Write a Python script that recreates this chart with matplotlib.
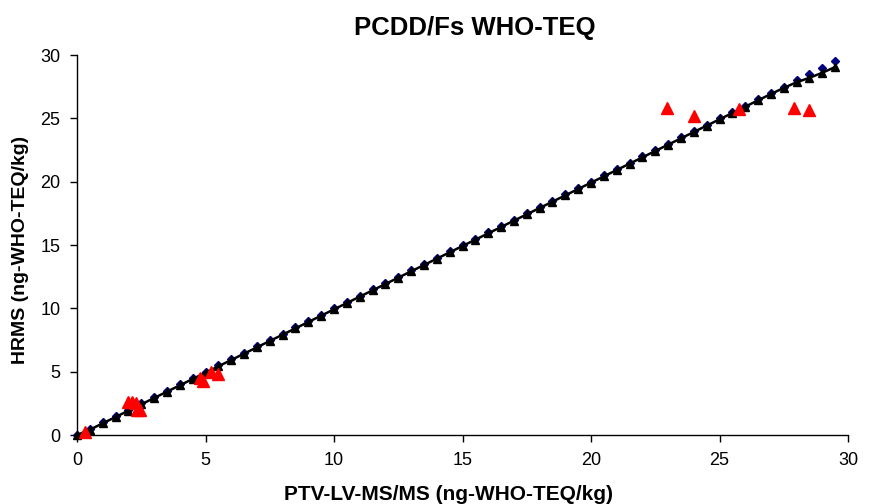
import matplotlib
matplotlib.use("Agg")
import matplotlib.pyplot as plt

plt.rcParams['font.family'] = ['Liberation Sans', 'DejaVu Sans']

# 1:1 reference series (diamonds) and regression series (triangles)
ref_x = [0, 0.5, 1, 1.5, 2, 2.5, 3, 3.5, 4, 4.5, 5, 5.5, 6, 6.5, 7, 7.5, 8, 8.5, 9, 9.5,
         10, 10.5, 11, 11.5, 12, 12.5, 13, 13.5, 14, 14.5, 15, 15.5, 16, 16.5, 17, 17.5,
         18, 18.5, 19, 19.5, 20, 20.5, 21, 21.5, 22, 22.5, 23, 23.5, 24, 24.5, 25, 25.5,
         26, 26.5, 27, 27.5, 28, 28.5, 29, 29.5]
ref_y = [0, 0.5, 1, 1.5, 2, 2.5, 3, 3.5, 4, 4.5, 5, 5.5, 6, 6.5, 7, 7.5, 8, 8.5, 9, 9.5,
         10, 10.5, 11, 11.5, 12, 12.5, 13, 13.5, 14, 14.5, 15, 15.5, 16, 16.5, 17, 17.5,
         18, 18.5, 19, 19.5, 20, 20.5, 21, 21.5, 22, 22.5, 23, 23.5, 24, 24.5, 25, 25.5,
         26, 26.5, 27, 27.5, 28, 28.5, 29, 29.5]
fit_x = ref_x
fit_y = [0, 0.42, 0.92, 1.42, 1.92, 2.42, 2.92, 3.42, 3.92, 4.42, 4.92, 5.42, 5.92, 6.42,
         6.92, 7.42, 7.92, 8.42, 8.92, 9.42, 9.92, 10.42, 10.92, 11.42, 11.92, 12.42,
         12.92, 13.42, 13.92, 14.42, 14.92, 15.42, 15.92, 16.42, 16.92, 17.42, 17.92,
         18.42, 18.92, 19.42, 19.92, 20.42, 20.92, 21.42, 21.92, 22.42, 22.92, 23.42,
         23.92, 24.42, 24.92, 25.42, 25.92, 26.42, 26.92, 27.4, 27.85, 28.2, 28.6, 29.05]

# Measured samples
sample_x = [0.3, 2.0, 2.15, 2.3, 2.35, 2.45, 4.8, 4.9, 5.2, 5.5, 22.96, 24.0, 25.77, 27.9, 28.5]
sample_y = [0.2, 2.6, 2.6, 2.5, 2.0, 2.0, 4.5, 4.3, 5.0, 4.8, 25.8, 25.2, 25.7, 25.8, 25.66]

title = "PCDD/Fs WHO-TEQ"
xlabel = "PTV-LV-MS/MS (ng-WHO-TEQ/kg)"
ylabel = "HRMS (ng-WHO-TEQ/kg)"
ticks = [0, 5, 10, 15, 20, 25, 30]

fig = plt.figure(figsize=(8.74, 5.04), dpi=100)
ax = fig.add_axes([77/874, 1-435/504, (848-77)/874, (435-55)/504])

ax.plot(ref_x, ref_y, linestyle='none', marker='D', markersize=3.6,
        color='#000080', zorder=3, clip_on=False)
ax.plot(fit_x, fit_y, linestyle='-', linewidth=1.8, marker='^', markersize=6,
        color='black', zorder=4, clip_on=False)
ax.plot(sample_x, sample_y, linestyle='none', marker='^', markersize=8,
        color='#ff0000', zorder=5, clip_on=False)

ax.set_xlim(0, 30)
ax.set_ylim(0, 30)
ax.set_xticks(ticks)
ax.set_yticks(ticks)
ax.spines['top'].set_visible(False)
ax.spines['right'].set_visible(False)
for s in ('left', 'bottom'):
    ax.spines[s].set_linewidth(1.0)
    ax.spines[s].set_color('black')
ax.tick_params(direction='out', length=5, width=1, labelsize=13, pad=7)

fig.text(475/874, 1-28/504, title, ha='center', va='center',
         fontsize=18.5, fontweight='bold')
fig.text(448/874, 1-494/504, xlabel, ha='center', va='center',
         fontsize=15, fontweight='bold')
fig.text(21/874, 1-250/504, ylabel, ha='center', va='center',
         fontsize=14, fontweight='bold', rotation=90)

fig.savefig("out.png", dpi=100)
